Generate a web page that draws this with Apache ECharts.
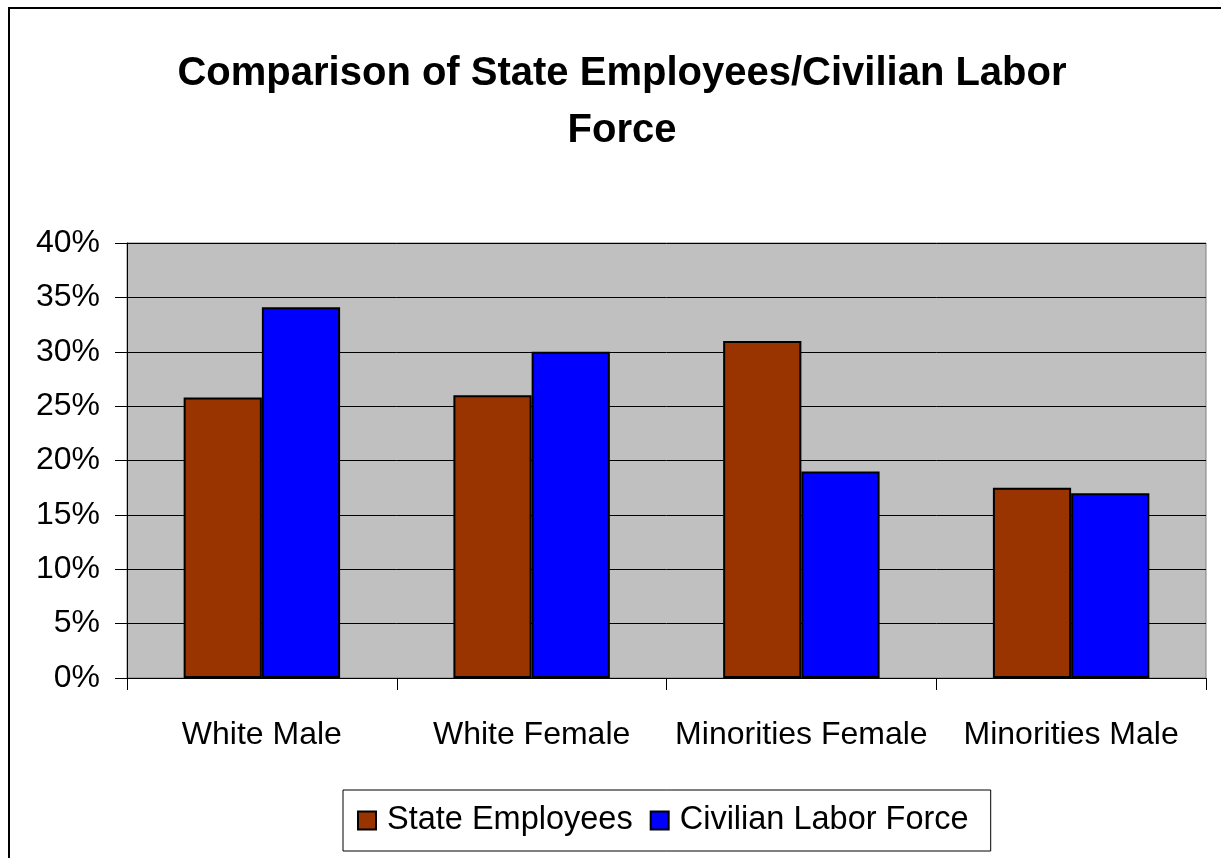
<!DOCTYPE html>
<html>
<head>
<meta charset="utf-8">
<script src="https://cdn.jsdelivr.net/npm/echarts@6/dist/echarts.min.js"></script>
<style>html,body{margin:0;padding:0;background:#fff;}#chart{width:1221px;height:858px;}</style>
</head>
<body>
<div id="chart"></div>
<script>
const categories = ['White Male', 'White Female', 'Minorities Female', 'Minorities Male'];
const stateEmployees = [25.8, 26.0, 31.0, 17.5];
const civilianLaborForce = [34.1, 30.0, 19.0, 17.0];
const seriesNames = ['State Employees', 'Civilian Labor Force'];
const titleText = 'Comparison of State Employees/Civilian Labor\nForce';

const chart = echarts.init(document.getElementById('chart'));
const font = '"Liberation Sans", Arial, sans-serif';
chart.setOption({
  backgroundColor: '#ffffff',
  animation: false,
  graphic: [{
    type: 'rect',
    shape: { x: 9, y: 8, width: 1300, height: 900 },
    style: { fill: 'none', stroke: '#000', lineWidth: 2 },
    z: -1
  }],
  title: {
    text: titleText,
    left: 617,
    textAlign: 'center',
    top: 40,
    textStyle: { fontFamily: font, fontSize: 40, fontWeight: 'bold', color: '#000', lineHeight: 57 }
  },
  legend: {
    data: seriesNames,
    orient: 'horizontal',
    left: 343,
    top: 790,
    padding: [14, 22, 14, 14],
    backgroundColor: '#fff',
    borderColor: '#000',
    borderWidth: 1,
    itemWidth: 18,
    itemHeight: 18,
    itemGap: 17,
    icon: 'rect',
    textStyle: { fontFamily: font, fontSize: 32.5, color: '#000', padding: [0, 0, 0, 6] }
  },
  grid: {
    left: 127, right: 15, top: 243, bottom: 180,
    show: true, backgroundColor: '#C0C0C0', borderColor: '#808080', borderWidth: 1,
    containLabel: false
  },
  xAxis: {
    type: 'category',
    data: categories,
    axisLine: { lineStyle: { color: '#000', width: 1 } },
    axisTick: { show: true, interval: 0, length: 12, lineStyle: { color: '#000' } },
    axisLabel: { interval: 0, margin: 41, fontFamily: font, fontSize: 32, color: '#000' }
  },
  yAxis: {
    type: 'value',
    min: 0, max: 40, interval: 5,
    axisLine: { show: true, lineStyle: { color: '#000', width: 1 } },
    axisTick: { show: true, length: 12, lineStyle: { color: '#000' } },
    splitLine: { lineStyle: { color: '#000', width: 1 } },
    axisLabel: { margin: 27, fontFamily: font, fontSize: 32, color: '#000', formatter: '{value}%' }
  },
  series: [
    {
      name: seriesNames[0], type: 'bar', data: stateEmployees,
      barGap: '0%', barCategoryGap: '42%',
      itemStyle: { color: '#993300', borderColor: '#000', borderWidth: 2 }
    },
    {
      name: seriesNames[1], type: 'bar', data: civilianLaborForce,
      itemStyle: { color: '#0000FF', borderColor: '#000', borderWidth: 2 }
    }
  ]
});
</script>
</body>
</html>
